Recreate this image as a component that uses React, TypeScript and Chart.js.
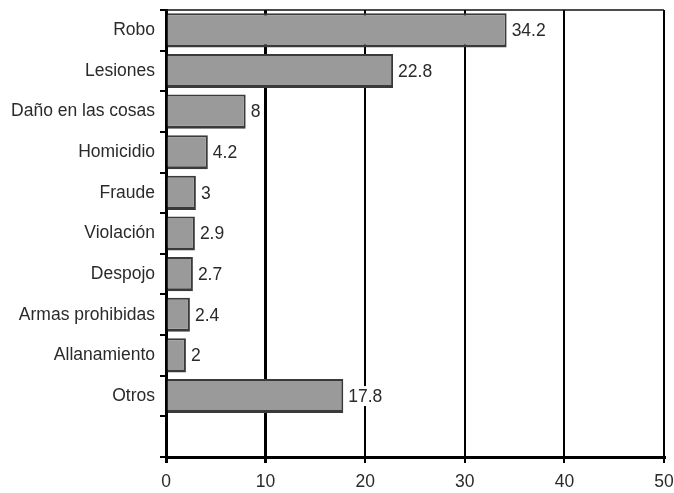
import React, { useEffect, useRef } from "react";
import { Chart, registerables } from "chart.js";

Chart.register(...registerables);

// Categories (the last slot is left empty, as in the printed figure)
const categories: string[] = [
  "Robo",
  "Lesiones",
  "Daño en las cosas",
  "Homicidio",
  "Fraude",
  "Violación",
  "Despojo",
  "Armas prohibidas",
  "Allanamiento",
  "Otros",
  "",
];

// Percentages per category
const values: (number | null)[] = [34.2, 22.8, 8, 4.2, 3, 2.9, 2.7, 2.4, 2, 17.8, null];

// Labels written next to each bar
const valueLabels: string[] = ["34.2", "22.8", "8", "4.2", "3", "2.9", "2.7", "2.4", "2", "17.8", ""];

// X-axis ticks
const xTicks: number[] = [0, 10, 20, 30, 40, 50];

const FONT = '"Liberation Sans", Arial, sans-serif';

const valueLabelPlugin = {
  id: "valueLabels",
  afterDatasetsDraw(chart: any) {
    const ctx = chart.ctx;
    const meta = chart.getDatasetMeta(0);
    ctx.save();
    ctx.font = `17.5px ${FONT}`;
    ctx.textBaseline = "middle";
    ctx.textAlign = "left";
    meta.data.forEach((bar: any, i: number) => {
      const txt = valueLabels[i];
      if (!txt) return;
      const x = bar.x + 5;
      const y = bar.y;
      const w = ctx.measureText(txt).width;
      ctx.fillStyle = "#ffffff";
      ctx.fillRect(x - 1, y - 10, w + 2, 20);
      ctx.fillStyle = "#2a2a2a";
      ctx.fillText(txt, x, y + 1);
    });
    ctx.restore();
  },
};

const frameTopPlugin = {
  id: "frameTop",
  afterDraw(chart: any) {
    const { ctx, chartArea } = chart;
    ctx.save();
    ctx.strokeStyle = "#111111";
    ctx.lineWidth = 1.5;
    ctx.beginPath();
    ctx.moveTo(chartArea.left, chartArea.top);
    ctx.lineTo(chartArea.right, chartArea.top);
    ctx.stroke();
    ctx.restore();
  },
};

export default function App() {
  const canvasRef = useRef<HTMLCanvasElement | null>(null);

  useEffect(() => {
    document.body.style.margin = "0";
    const canvas = canvasRef.current;
    if (!canvas) return;
    const gridWidths = [3, 3, 2, 2, 2, 2];
    const chart = new Chart(canvas, {
      type: "bar",
      data: {
        labels: categories,
        datasets: [
          {
            data: values as any,
            backgroundColor: "#9a9a9a",
            borderColor: "#3a3a3a",
            borderWidth: { top: 2, right: 2, bottom: 3, left: 0 } as any,
            borderSkipped: false,
            categoryPercentage: 1,
            barPercentage: 0.84,
          },
        ],
      },
      options: {
        indexAxis: "y",
        animation: false,
        responsive: false,
        maintainAspectRatio: false,
        layout: { padding: { top: 10, right: 10, left: 0, bottom: 0 } },
        plugins: {
          legend: { display: false },
          tooltip: { enabled: false },
        },
        scales: {
          x: {
            min: 0,
            max: 50,
            afterBuildTicks: (scale: any) => {
              scale.ticks = xTicks.map((v) => ({ value: v }));
            },
            afterFit: (scale: any) => {
              scale.height = 36;
              scale.paddingLeft = 0;
              scale.paddingRight = 0;
            },
            grid: {
              color: "#000000",
              lineWidth: (c: any) => gridWidths[c.index] ?? 2,
              tickLength: 6,
              drawTicks: true,
            },
            border: { display: true, color: "#000000", width: 3 },
            ticks: {
              color: "#2a2a2a",
              font: { family: FONT, size: 17.5 },
              padding: 9,
              maxRotation: 0,
            },
          },
          y: {
            afterFit: (scale: any) => {
              scale.width = 166;
              scale.paddingTop = 0;
              scale.paddingBottom = 0;
            },
            grid: {
              display: true,
              drawOnChartArea: false,
              drawTicks: true,
              tickLength: 6,
              color: "#000000",
              lineWidth: 2,
            },
            border: { display: true, color: "#000000", width: 3 },
            ticks: {
              color: "#2a2a2a",
              font: { family: FONT, size: 17.5 },
              padding: 5,
              autoSkip: false,
            },
          },
        },
      },
      plugins: [valueLabelPlugin, frameTopPlugin],
    });
    return () => chart.destroy();
  }, []);

  return (
    <div style={{ width: 674, height: 493, background: "#ffffff" }}>
      <canvas ref={canvasRef} width={674} height={493} />
    </div>
  );
}
